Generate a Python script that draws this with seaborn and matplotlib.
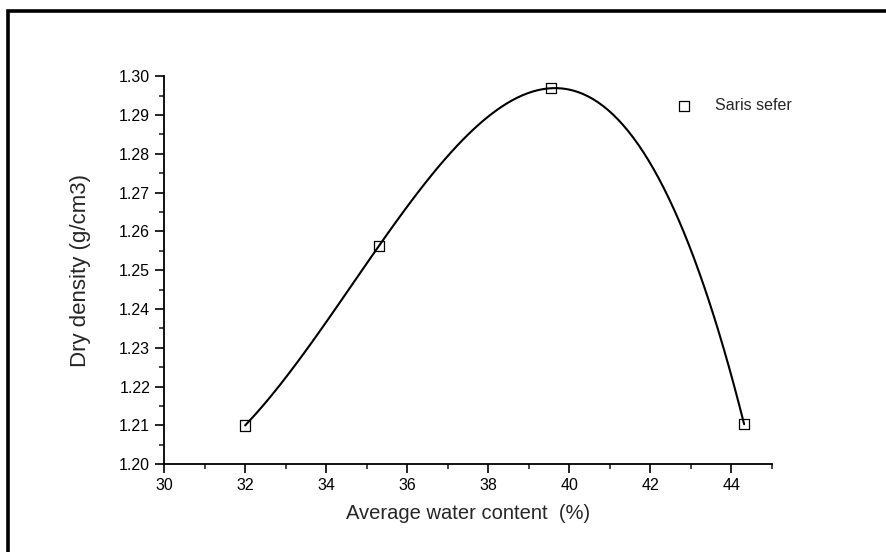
import numpy as np
import pandas as pd
import matplotlib
matplotlib.use("Agg")
import matplotlib.pyplot as plt
import seaborn as sns
from matplotlib.ticker import MultipleLocator
from matplotlib.patches import Rectangle

# ---------------------------------------------------------------------
# Data
# ---------------------------------------------------------------------
water_content = [32.0, 35.3, 39.56, 44.32]
dry_density = [1.2100, 1.2562, 1.2969, 1.2103]
series_name = "Saris sefer"

df = pd.DataFrame({"water": water_content, "density": dry_density})

# ---------------------------------------------------------------------
# Style
# ---------------------------------------------------------------------
sns.set_style("ticks")
plt.rcParams["font.family"] = ["Liberation Sans", "DejaVu Sans"]

fig = plt.figure(figsize=(8.87, 5.52), dpi=100)
ax = fig.add_axes([0.185, 0.159, 0.685, 0.703])

# smooth curve through the points (cubic)
sns.regplot(data=df, x="water", y="density", order=3, ci=None,
            scatter=False, truncate=True, ax=ax,
            line_kws={"color": "black", "lw": 1.5})

sns.scatterplot(data=df, x="water", y="density", ax=ax, marker="s",
                s=55, facecolor="none", edgecolor="black", linewidth=0.9,
                label=series_name, zorder=3)

ax.set_xlim(30, 45)
ax.set_ylim(1.20, 1.30)
ax.xaxis.set_major_locator(MultipleLocator(2))
ax.xaxis.set_minor_locator(MultipleLocator(1))
ax.yaxis.set_major_locator(MultipleLocator(0.01))
ax.yaxis.set_minor_locator(MultipleLocator(0.005))
ax.yaxis.set_major_formatter(plt.FormatStrFormatter("%.2f"))

ax.tick_params(which="major", direction="out", length=6.5, width=1.2,
               labelsize=11.5, colors="black", pad=3.5)
ax.tick_params(which="minor", direction="out", length=3.6, width=1.2)

for s in ["top", "right"]:
    ax.spines[s].set_visible(False)
for s in ["left", "bottom"]:
    ax.spines[s].set_linewidth(1.3)
    ax.spines[s].set_color("black")

ax.set_xlabel("Average water content  (%)", fontsize=14.5, labelpad=8)
ax.set_ylabel("Dry density (g/cm3)", fontsize=16, labelpad=20)

ax.legend(loc="upper left", bbox_to_anchor=(0.806, 0.98), frameon=False,
          fontsize=11.5, handletextpad=0.9, markerscale=0.95)

# outer frame of the figure
fig.patches.append(Rectangle((8 / 887, -0.1), 1.2, 1 - 11 / 552 + 0.1,
                             transform=fig.transFigure, fill=False,
                             edgecolor="black", linewidth=2.6))

fig.savefig("out.png", dpi=100)
